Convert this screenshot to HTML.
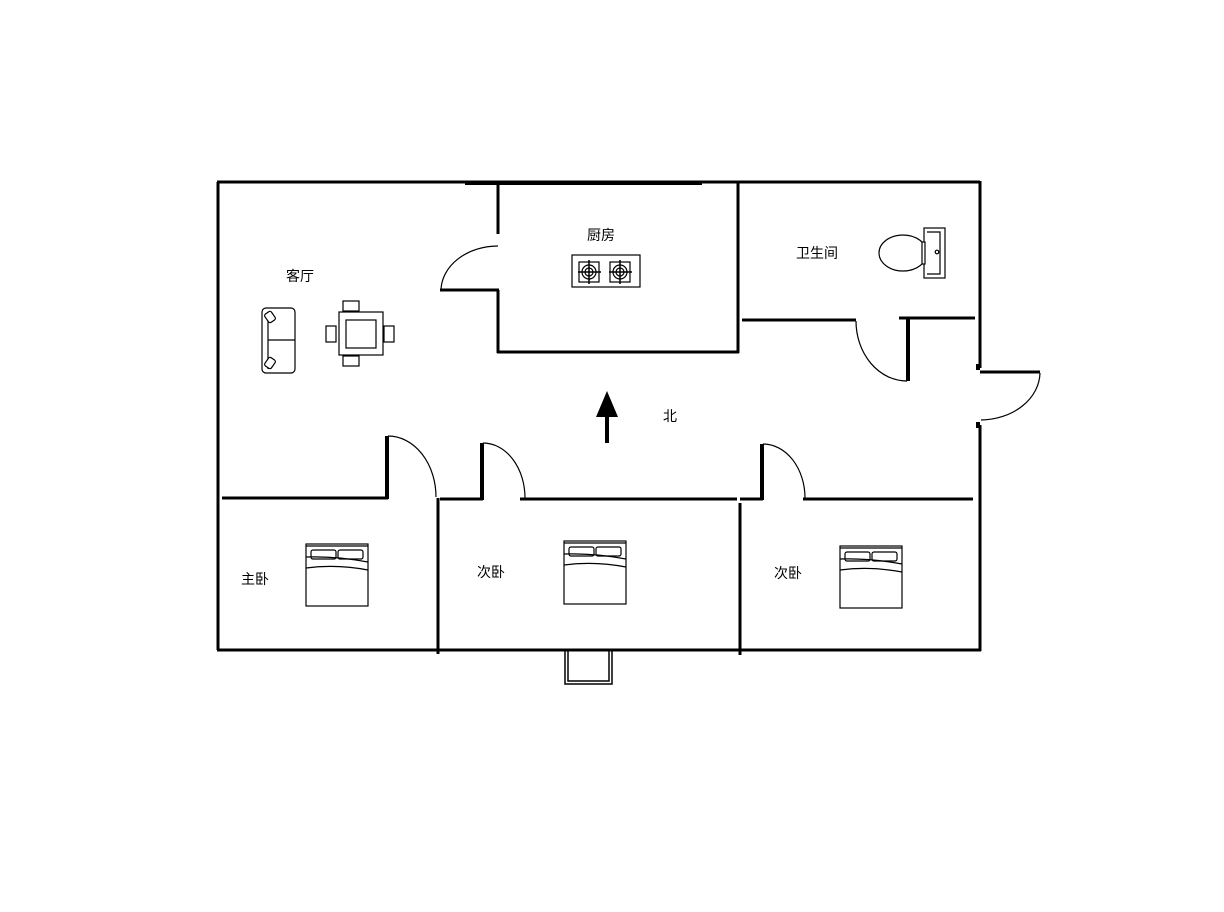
<!DOCTYPE html>
<html><head><meta charset="utf-8"><style>
html,body{margin:0;padding:0;background:#fff;}
svg{display:block}
text{font-family:"Liberation Sans","Noto Sans CJK SC",sans-serif;font-size:14px;fill:#000}
</style></head><body>
<svg width="1224" height="912" viewBox="0 0 1224 912" xmlns="http://www.w3.org/2000/svg">
<g stroke="#000" fill="none" stroke-width="3">
<!-- outer -->
<line x1="218" y1="182" x2="218" y2="650"/>
<line x1="217" y1="182" x2="980" y2="182"/>
<line x1="465" y1="183" x2="702" y2="183" stroke-width="4"/>
<line x1="980" y1="181" x2="980" y2="368"/>
<line x1="980" y1="425" x2="980" y2="651"/>
<line x1="217" y1="650" x2="981" y2="650"/>
<!-- kitchen -->
<line x1="498" y1="182" x2="498" y2="234"/>
<line x1="498" y1="290" x2="498" y2="353"/>
<line x1="440" y1="290" x2="499" y2="290"/>
<path d="M441 290 A57 45 0 0 1 498 246" stroke-width="1.2"/>
<line x1="497" y1="352" x2="739" y2="352"/>
<line x1="738" y1="181" x2="738" y2="353"/>
<!-- bathroom -->
<line x1="742" y1="320" x2="856" y2="320"/>
<path d="M856 321 A51 60 0 0 0 907 381" stroke-width="1.2"/>
<line x1="908" y1="318" x2="908" y2="381" stroke-width="4"/>
<line x1="899" y1="318" x2="975" y2="318"/>
<!-- right exterior door -->
<line x1="978" y1="364" x2="978" y2="370" stroke-width="4"/>
<line x1="978" y1="422" x2="978" y2="428" stroke-width="4"/>
<line x1="980" y1="372" x2="1040" y2="372"/>
<path d="M1040 373 A60 48 0 0 1 981 420" stroke-width="1.2"/>
<!-- corridor bottom walls -->
<line x1="222" y1="498" x2="388" y2="498"/>
<line x1="387" y1="436" x2="387" y2="499" stroke-width="4"/>
<path d="M388 436 A48 61 0 0 1 436 497" stroke-width="1.2"/>
<line x1="440" y1="499" x2="483" y2="499"/>
<line x1="482" y1="443" x2="482" y2="500" stroke-width="4"/>
<path d="M483 443 A42 55 0 0 1 525 498" stroke-width="1.2"/>
<line x1="520" y1="499" x2="737" y2="499"/>
<line x1="740" y1="499" x2="763" y2="499"/>
<line x1="762" y1="444" x2="762" y2="500" stroke-width="4"/>
<path d="M763 444 A42 54 0 0 1 805 498" stroke-width="1.2"/>
<line x1="803" y1="499" x2="973" y2="499"/>
<!-- dividers -->
<line x1="438" y1="498" x2="438" y2="654"/>
<line x1="740" y1="503" x2="740" y2="655"/>
<!-- balcony -->
<path d="M565 650 V684 H612 V650" stroke-width="1.5"/>
<path d="M568 650 V681 H609 V650" stroke-width="1.5"/>
</g>
<!-- beds -->
<g stroke="#000" fill="#fff" stroke-width="1.2">
<g transform="translate(306,544)">
<rect x="0" y="0" width="62" height="62"/><line x1="0" y1="2" x2="62" y2="2"/>
<rect x="5" y="6" width="25" height="9" rx="2"/><rect x="32" y="6" width="25" height="9" rx="2"/>
<path d="M0 13 Q30 12 62 18" fill="none"/><path d="M0 24 Q30 20 62 26" fill="none"/>
</g>
<g transform="translate(564,541)">
<rect x="0" y="0" width="62" height="63"/><line x1="0" y1="2" x2="62" y2="2"/>
<rect x="5" y="6" width="25" height="9" rx="2"/><rect x="32" y="6" width="25" height="9" rx="2"/>
<path d="M0 13 Q30 12 62 18" fill="none"/><path d="M0 24 Q30 20 62 26" fill="none"/>
</g>
<g transform="translate(840,546)">
<rect x="0" y="0" width="62" height="62"/><line x1="0" y1="2" x2="62" y2="2"/>
<rect x="5" y="6" width="25" height="9" rx="2"/><rect x="32" y="6" width="25" height="9" rx="2"/>
<path d="M0 13 Q30 12 62 18" fill="none"/><path d="M0 24 Q30 20 62 26" fill="none"/>
</g>
<!-- stove -->
<rect x="572" y="255" width="68" height="32"/>
<rect x="579" y="262" width="20" height="20"/><rect x="610" y="262" width="20" height="20"/>
<circle cx="589" cy="272" r="7" fill="none"/><circle cx="589" cy="272" r="4" fill="none"/>
<circle cx="620" cy="272" r="7" fill="none"/><circle cx="620" cy="272" r="4" fill="none"/>
<path d="M578 272H601M589 260V284M609 272H632M620 260V284" stroke-width="1.5"/>
<!-- toilet -->
<ellipse cx="903" cy="253" rx="24" ry="18"/>
<rect x="924" y="228" width="21" height="50"/>
<path d="M927 232H940V274H927" fill="none"/>
<circle cx="937" cy="252" r="1.8"/>
<rect x="922" y="242" width="3" height="22"/>
<!-- sofa -->
<rect x="262" y="308" width="33" height="65" rx="4"/>
<line x1="268" y1="312" x2="268" y2="369"/>
<line x1="268" y1="340" x2="295" y2="340"/>
<rect x="266" y="312" width="8" height="10" rx="2" transform="rotate(-35 270 317)"/>
<rect x="266" y="358" width="8" height="10" rx="2" transform="rotate(35 270 363)"/>
<!-- table -->
<rect x="343" y="301" width="16" height="10"/><rect x="343" y="356" width="16" height="10"/>
<rect x="326" y="326" width="10" height="16"/><rect x="384" y="326" width="10" height="16"/>
<rect x="339" y="312" width="44" height="43"/>
<rect x="346" y="320" width="30" height="28"/>
</g>
<!-- arrow -->
<line x1="607" y1="412" x2="607" y2="443" stroke="#000" stroke-width="4"/>
<polygon points="596,417 607,391 618,417" fill="#000"/>
<!-- labels -->
<text x="286" y="281">客厅</text>
<text x="587" y="240">厨房</text>
<text x="796" y="258">卫生间</text>
<text x="663" y="421">北</text>
<text x="241" y="584">主卧</text>
<text x="477" y="577">次卧</text>
<text x="774" y="578">次卧</text>
</svg>
</body></html>
